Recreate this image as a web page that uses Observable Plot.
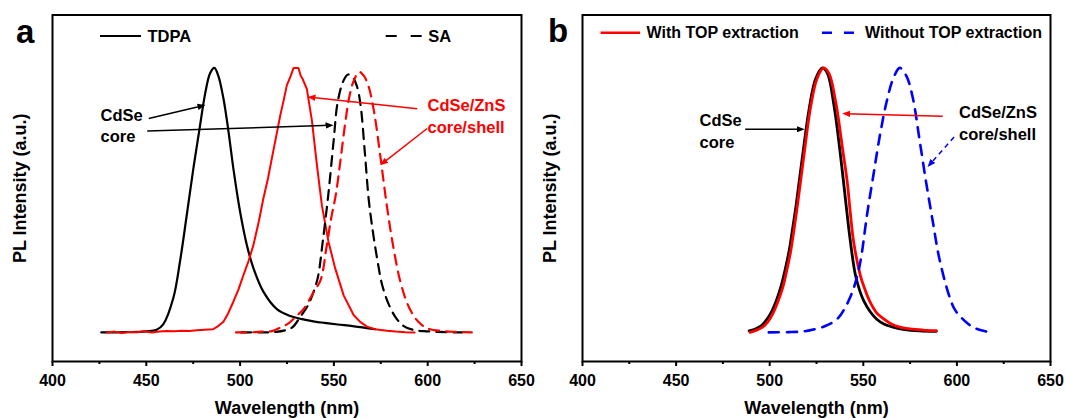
<!DOCTYPE html>
<html><head><meta charset="utf-8">
<script src="https://cdn.jsdelivr.net/npm/d3@7"></script>
<script src="https://cdn.jsdelivr.net/npm/@observablehq/plot@0.6"></script>
<style>
body{margin:0;background:#fff;}
#wrap{position:relative;width:1065px;height:418px;overflow:hidden;background:#fff;}
#wrap svg{position:absolute;left:0;top:0;}
</style></head><body><div id="wrap"></div>
<script>
// ---------- Panel a data (wavelength nm, normalized PL intensity) ----------
const tdpaCoreNm = [426, 440, 450, 455.5, 459, 464.4, 468, 471.5, 475.1, 478.6, 481.3, 484, 486.3, 488.4, 491.1, 493.8, 496.4, 500, 503.6, 507.1, 512.4, 519.6, 526.7, 533, 539, 545, 552, 560, 566, 572];
const tdpaCoreI  = [0, 0.001, 0.004, 0.01, 0.03, 0.13, 0.27, 0.44, 0.62, 0.78, 0.9, 0.98, 1.0, 0.97, 0.885, 0.76, 0.62, 0.456, 0.33, 0.243, 0.154, 0.088, 0.062, 0.05, 0.042, 0.036, 0.03, 0.024, 0.018, 0.012];

const tdpaShellNm = [429, 433, 437, 441, 445, 449, 453, 457, 461, 465, 469, 473, 477, 481, 485.6, 488.5, 491.1, 493.5, 496.4, 499, 501.8, 504.5, 507.1, 510, 512.4, 514.8, 516.9, 519.2, 521.4, 523.3, 524.9, 527, 528.5, 531.1, 532.3, 533.2, 535.6, 538.3, 541, 543.6, 547.1, 550.7, 555.2, 560.5, 564, 567.6, 572, 578.3, 583, 588, 593];
const tdpaShellI  = [0, 0.003, -0.002, 0.002, 0.001, 0.004, 0, 0.003, 0.005, 0.004, 0.006, 0.005, 0.008, 0.01, 0.012, 0.025, 0.04, 0.07, 0.116, 0.16, 0.217, 0.27, 0.33, 0.42, 0.506, 0.58, 0.657, 0.74, 0.82, 0.88, 0.934, 0.97, 1.0, 1.0, 0.97, 0.96, 0.92, 0.8, 0.63, 0.48, 0.343, 0.242, 0.14, 0.066, 0.04, 0.022, 0.012, 0.006, 0.003, 0.001, 0];

const saCoreNm = [500.5, 510, 519, 524, 528, 532, 536, 539, 541.5, 544, 547, 549.8, 552, 555, 557.5, 560, 562.3, 564.2, 566.5, 568.6, 571, 573.5, 575.7, 579, 582.8, 587, 592, 600, 610, 618.4];
const saCoreI  = [0, 0, 0.002, 0.008, 0.02, 0.058, 0.1, 0.15, 0.21, 0.34, 0.52, 0.72, 0.87, 0.95, 0.975, 0.965, 0.93, 0.86, 0.68, 0.5, 0.37, 0.26, 0.18, 0.11, 0.058, 0.025, 0.01, 0.004, 0.001, 0];

const saShellNm = [497.8, 505, 512, 517, 522, 526, 529.5, 534, 539, 543, 546, 548.5, 551, 553.5, 556, 558.2, 560.5, 563.5, 566, 568.5, 571.5, 574.5, 578, 581.5, 585.5, 590, 595, 600, 608, 615, 623.5];
const saShellI  = [0, 0, 0.003, 0.005, 0.02, 0.035, 0.058, 0.09, 0.15, 0.2, 0.32, 0.43, 0.52, 0.65, 0.79, 0.89, 0.95, 0.985, 0.97, 0.93, 0.83, 0.68, 0.49, 0.33, 0.19, 0.095, 0.04, 0.015, 0.005, 0.002, 0];

// ---------- Panel b data ----------
const coreBNm = [489, 492, 495.6, 498, 500.9, 503.5, 506.2, 508.5, 510.6, 512.4, 514.1, 517.6, 521.1, 524.6, 528.2, 530.8, 534.3, 537.8, 541, 542.8, 545.7, 548, 550.2, 553.5, 557.2, 561, 566, 572, 580, 589];
const coreBI  = [0.006, 0.012, 0.026, 0.045, 0.077, 0.12, 0.178, 0.245, 0.317, 0.4, 0.48, 0.67, 0.846, 0.96, 1.0, 0.98, 0.86, 0.67, 0.47, 0.36, 0.22, 0.16, 0.12, 0.08, 0.05, 0.032, 0.02, 0.011, 0.006, 0.004];

const withTopNm = [489.5, 492.5, 496.2, 499, 501.6, 504.3, 507, 509.3, 511.3, 513.1, 514.8, 518.3, 521.8, 525.3, 528.8, 531.6, 535.3, 538.8, 541.4, 543.1, 544.9, 548.4, 551, 553.6, 557, 560.7, 565, 569.5, 575, 582, 589];
const withTopI  = [0, 0.007, 0.02, 0.04, 0.07, 0.115, 0.17, 0.24, 0.31, 0.395, 0.48, 0.67, 0.85, 0.96, 1.0, 0.98, 0.87, 0.7, 0.57, 0.45, 0.34, 0.216, 0.16, 0.115, 0.075, 0.052, 0.032, 0.02, 0.013, 0.009, 0.007];

const withoutTopNm = [499.5, 510, 518, 524, 530, 536, 540, 544, 547, 549, 551.9, 555.4, 558.9, 562.4, 566, 569.5, 573, 576.5, 580, 583.5, 587.1, 590.6, 595.8, 599, 602.9, 608, 613, 618.4];
const withoutTopI  = [0, 0.001, 0.004, 0.012, 0.025, 0.05, 0.09, 0.15, 0.22, 0.29, 0.44, 0.595, 0.746, 0.87, 0.96, 1.0, 0.97, 0.885, 0.73, 0.57, 0.42, 0.28, 0.14, 0.085, 0.052, 0.022, 0.008, 0];

// ---------- Axis ticks ----------
const majorTicks = [400, 450, 500, 550, 600, 650];
const minorTicks = [425, 475, 525, 575, 625];

// ---------- Labels ----------
const xLabel = "Wavelength (nm)";
const yLabel = "PL Intensity (a.u.)";

// ---------- Annotations (data coordinates) ----------
const notesA = [
  {nm: 425.6, I: 0.786, label: "CdSe\ncore", color: "black"},
  {nm: 599.9, I: 0.821, label: "CdSe/ZnS\ncore/shell", color: "red"}
];
const arrowsA = [
  {x1: 451.3, y1: 0.809, x2: 480.0, y2: 0.857, color: "black"},
  {x1: 450.5, y1: 0.761, x2: 548.2, y2: 0.783, color: "black"},
  {x1: 594.4, y1: 0.846, x2: 537.5, y2: 0.889, color: "red"},
  {x1: 599.7, y1: 0.771, x2: 575.9, y2: 0.639, color: "red"}
];
const notesB = [
  {nm: 462.5, I: 0.764, label: "CdSe\ncore", color: "black"},
  {nm: 601.1, I: 0.796, label: "CdSe/ZnS\ncore/shell", color: "black"}
];
const arrowsB = [
  {x1: 486.9, y1: 0.768, x2: 517.1, y2: 0.768, color: "black"},
  {x1: 592.4, y1: 0.817, x2: 540.3, y2: 0.827, color: "red"}
];
const dashedArrowsB = [
  {x1: 598.5, y1: 0.739, x2: 585.4, y2: 0.634, color: "blue"}
];

const zip = (xs, ys) => xs.map((x, i) => ({nm: x, I: ys[i]}));
const FONT = "'Liberation Sans', Arial, Helvetica, sans-serif";
const W = 1065, H = 418;

function panel({left, right, lines, notes, arrows, dashedArrows}) {
  const marks = [];
  for (const l of lines) {
    marks.push(Plot.line(l.data, {x: "nm", y: "I", stroke: l.color, strokeWidth: l.width,
      strokeDasharray: l.dash, curve: l.curve || "catmull-rom", strokeLinejoin: "round"}));
  }
  marks.push(
    Plot.axisX({ticks: majorTicks, tickSize: 5, tickPadding: 8, strokeWidth: 2, fontSize: 16, fontWeight: "bold", tickFormat: "d", label: null}),
    Plot.axisX({ticks: minorTicks, tickSize: 3, strokeWidth: 2, tickFormat: () => "", label: null}),
    Plot.frame({stroke: "black", strokeWidth: 2}),
    Plot.text([xLabel], {frameAnchor: "bottom", text: d => d, dy: 47, fontSize: 18, fontWeight: "bold", textAnchor: "middle", lineAnchor: "middle"}),
    Plot.text([yLabel], {frameAnchor: "left", text: d => d, dx: -32, rotate: -90, fontSize: 18, fontWeight: "bold", textAnchor: "middle", lineAnchor: "middle"}),
    Plot.link(arrows, {x1: "x1", y1: "y1", x2: "x2", y2: "y2", stroke: "color", strokeWidth: 1.5, markerEnd: "arrow"}),
    Plot.text(notes, {x: "nm", y: "I", text: "label", fill: "color", fontSize: 16.5, fontWeight: "bold", textAnchor: "start", lineAnchor: "middle", lineHeight: 1.33})
  );
  if (dashedArrows) {
    marks.push(Plot.link(dashedArrows, {x1: "x1", y1: "y1", x2: "x2", y2: "y2", stroke: "color", strokeWidth: 1.5, strokeDasharray: "5,4", markerEnd: "arrow"}));
  }
  const svg = Plot.plot({
    width: W, height: H,
    marginLeft: left, marginRight: W - right, marginTop: 14.5, marginBottom: 57,
    x: {domain: [400, 650], label: null},
    y: {domain: [-0.11, 1.2], axis: null},
    color: {type: "identity"},
    style: {background: "none", overflow: "visible", fontFamily: FONT, fontWeight: "bold", color: "black"},
    marks
  });
  // filled triangular arrowheads
  svg.querySelectorAll("marker").forEach(m => {
    const c = m.getAttribute("stroke") || "black";
    m.setAttribute("fill", c);
    m.setAttribute("stroke", "none");
    const p = m.querySelector("path");
    if (p) p.setAttribute("d", "M-5,-3.2L3,0L-5,3.2Z");
  });
  return svg;
}

const wrap = document.getElementById("wrap");

wrap.appendChild(panel({
  left: 52, right: 521,
  lines: [
    {data: zip(tdpaCoreNm, tdpaCoreI), color: "black", width: 2.2},
    {data: zip(tdpaShellNm, tdpaShellI), color: "red", width: 2, curve: "linear"},
    {data: zip(saCoreNm, saCoreI), color: "black", width: 2.2, dash: "10,7"},
    {data: zip(saShellNm, saShellI), color: "red", width: 2.2, dash: "10,7"}
  ],
  notes: notesA, arrows: arrowsA
}));

wrap.appendChild(panel({
  left: 582, right: 1050,
  lines: [
    {data: zip(coreBNm, coreBI), color: "black", width: 2.8},
    {data: zip(withTopNm, withTopI), color: "red", width: 2.8},
    {data: zip(withoutTopNm, withoutTopI), color: "blue", width: 2.6, dash: "10,8"}
  ],
  notes: notesB, arrows: arrowsB, dashedArrows: dashedArrowsB
}));

// ---------- Legends and panel letters ----------
const legendItems = [
  {x: 100, y: 36, len: 41, color: "black", dash: null, w: 2.2, label: "TDPA", size: 16.5},
  {x: 385.7, y: 36, len: 36, color: "black", dash: "11,14", w: 2.2, label: "SA", size: 16.5},
  {x: 600.6, y: 32.7, len: 39.5, color: "red", dash: null, w: 2.6, label: "With TOP extraction", size: 16},
  {x: 822, y: 32.7, len: 36.5, color: "blue", dash: "10,12", w: 2.6, label: "Without TOP extraction", size: 16}
];
const panelLetters = [
  {x: 16, y: 43, label: "a"},
  {x: 548, y: 42, label: "b"}
];
const ov = d3.create("svg").attr("width", W).attr("height", H)
  .attr("font-family", FONT).attr("font-weight", "bold");
for (const it of legendItems) {
  ov.append("line").attr("x1", it.x).attr("x2", it.x + it.len).attr("y1", it.y).attr("y2", it.y)
    .attr("stroke", it.color).attr("stroke-width", it.w).attr("stroke-dasharray", it.dash);
  ov.append("text").attr("x", it.x + it.len + 6.5).attr("y", it.y).attr("dy", "0.35em")
    .attr("font-size", it.size).attr("fill", "black").text(it.label);
}
for (const p of panelLetters) {
  ov.append("text").attr("x", p.x).attr("y", p.y).attr("font-size", 33).attr("fill", "black").text(p.label);
}
wrap.appendChild(ov.node());
</script></body></html>
